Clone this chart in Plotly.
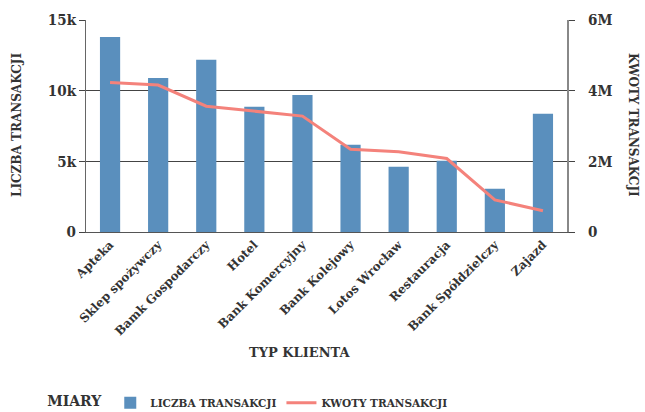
import plotly.graph_objects as go

categories = ["Apteka", "Sklep spożywczy", "Bamk Gospodarczy", "Hotel", "Bank Komercyjny",
              "Bank Kolejowy", "Lotos Wrocław", "Restauracja", "Bank Spółdzielczy", "Zajazd"]
liczba = [13800, 10900, 12180, 8860, 9700, 6170, 4620, 5040, 3060, 8360]
kwoty = [4230000, 4160000, 3560000, 3410000, 3280000, 2340000, 2270000, 2080000, 910000, 600000]
left_ticks = [0, 5000, 10000, 15000]
left_labels = ["0", "5k", "10k", "15k"]
right_ticks = [0, 2000000, 4000000, 6000000]
right_labels = ["0", "2M", "4M", "6M"]

FONT = "DejaVu Serif"
NUMFONT = "DejaVu Serif Condensed, DejaVu Serif"
TXT = "#333333"
BAR = "#5a8fbd"
LINE = "#f4827b"

fig = go.Figure()
fig.add_trace(go.Bar(x=categories, y=liczba, name="LICZBA TRANSAKCJI",
                     marker=dict(color=BAR, line=dict(width=0)), width=0.42))
fig.add_trace(go.Scatter(x=categories, y=kwoty, name="KWOTY TRANSAKCJI", yaxis="y2",
                         mode="lines", line=dict(color=LINE, width=3)))

fig.update_layout(
    width=645, height=412,
    margin=dict(l=86, r=78, t=20, b=180, autoexpand=False),
    plot_bgcolor="white", paper_bgcolor="white",
    font=dict(family=FONT, color=TXT),
    showlegend=True,
    legend=dict(orientation="h", x=0.07, xref="container", y=-0.805, yref="paper",
                xanchor="left", yanchor="middle",
                title=dict(text="<b>MIARY</b>", font=dict(family=FONT, size=14, color=TXT)),
                font=dict(family=FONT, size=10.5, color=TXT, weight="bold"),
                itemwidth=30, traceorder="normal"),
    xaxis=dict(tickangle=-45, tickfont=dict(family=FONT, size=12, color=TXT, weight="bold"),
               showline=True, linecolor="#555", linewidth=1, ticks="", showgrid=False,
               automargin=False),
    yaxis=dict(range=[0, 15000], tickvals=left_ticks, ticktext=left_labels,
               tickfont=dict(family=NUMFONT, size=15, color=TXT, weight="bold"),
               showgrid=True, gridcolor="#444", gridwidth=1,
               showline=True, linecolor="#666", linewidth=1,
               ticks="outside", ticklen=6, tickcolor="#444", zeroline=False, automargin=False),
    yaxis2=dict(range=[0, 6000000], tickvals=right_ticks, ticktext=right_labels,
                overlaying="y", side="right",
                tickfont=dict(family=NUMFONT, size=15, color=TXT, weight="bold"),
                showgrid=False, showline=True, linecolor="#888", linewidth=2,
                ticks="outside", ticklen=6, tickcolor="#444", zeroline=False, automargin=False,
                ticklabelstandoff=10),
    annotations=[
        dict(text="<b>LICZBA TRANSAKCJI</b>", textangle=-90, x=17, y=125,
             showarrow=False, font=dict(family=FONT, size=12, color=TXT)),
        dict(text="<b>KWOTY TRANSAKCJI</b>", textangle=90, x=633, y=125, showarrow=False,
             font=dict(family=FONT, size=12, color=TXT)),
        dict(text="<b>TYP KLIENTA</b>", x=300, y=352, showarrow=False,
             font=dict(family=FONT, size=13, color=TXT)),
    ],
)

# convert pixel-positioned annotations to paper coords
pl, pr, pt, pb = 86, 645 - 78, 20, 412 - 180
for a in fig.layout.annotations:
    px, py = a.x, a.y
    a.xref = "paper"; a.yref = "paper"
    a.x = (px - pl) / (pr - pl)
    a.y = (pb - py) / (pb - pt)
    a.xanchor = "center"; a.yanchor = "middle"

fig.write_html("out.html", config={"displayModeBar": False},
               post_script="document.body.style.margin='0';")
